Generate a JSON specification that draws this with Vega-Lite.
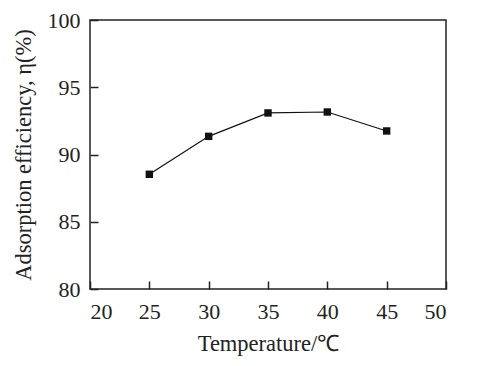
{
  "$schema": "https://vega.github.io/schema/vega-lite/v6.json",
  "autosize": "none",
  "width": 356,
  "height": 269,
  "padding": {"left": 90, "top": 20, "right": 54, "bottom": 77},
  "background": "white",
  "config": {
    "view": {"stroke": "#222", "strokeWidth": 1.5},
    "font": "Liberation Serif",
    "axis": {
      "grid": false,
      "zindex": 1,
      "labelFont": "Liberation Serif",
      "labelFontSize": 22,
      "labelColor": "#222",
      "titleFont": "Liberation Serif",
      "titleFontSize": 22.5,
      "titleFontWeight": "normal",
      "titleColor": "#222"
    }
  },
  "data": {
    "values": [
      {"temperature": 25, "efficiency": 88.53},
      {"temperature": 30, "efficiency": 91.35},
      {"temperature": 35, "efficiency": 93.09},
      {"temperature": 40, "efficiency": 93.16},
      {"temperature": 45, "efficiency": 91.75}
    ]
  },
  "encoding": {
    "x": {
      "field": "temperature",
      "type": "quantitative",
      "scale": {"domain": [20, 50], "nice": false, "zero": false},
      "axis": {"values": [20, 25, 30, 35, 40, 45, 50], "domain": false, "offset": -8, "tickSize": 8, "tickWidth": 1.5, "tickColor": "#222", "title": "Temperature/℃", "labelPadding": 12, "titlePadding": 10}
    },
    "y": {
      "field": "efficiency",
      "type": "quantitative",
      "scale": {"domain": [80, 100], "nice": false, "zero": false},
      "axis": {"values": [80, 85, 90, 95, 100], "domain": false, "offset": -8, "tickSize": 8, "tickWidth": 1.5, "tickColor": "#222", "title": "Adsorption efficiency, η(%)", "labelPadding": 10, "titlePadding": 12}
    }
  },
  "layer": [
    {"mark": {"type": "line", "color": "#111", "strokeWidth": 1.2}},
    {"mark": {"type": "point", "shape": "square", "filled": true, "color": "#111", "size": 55, "opacity": 1}}
  ]
}
